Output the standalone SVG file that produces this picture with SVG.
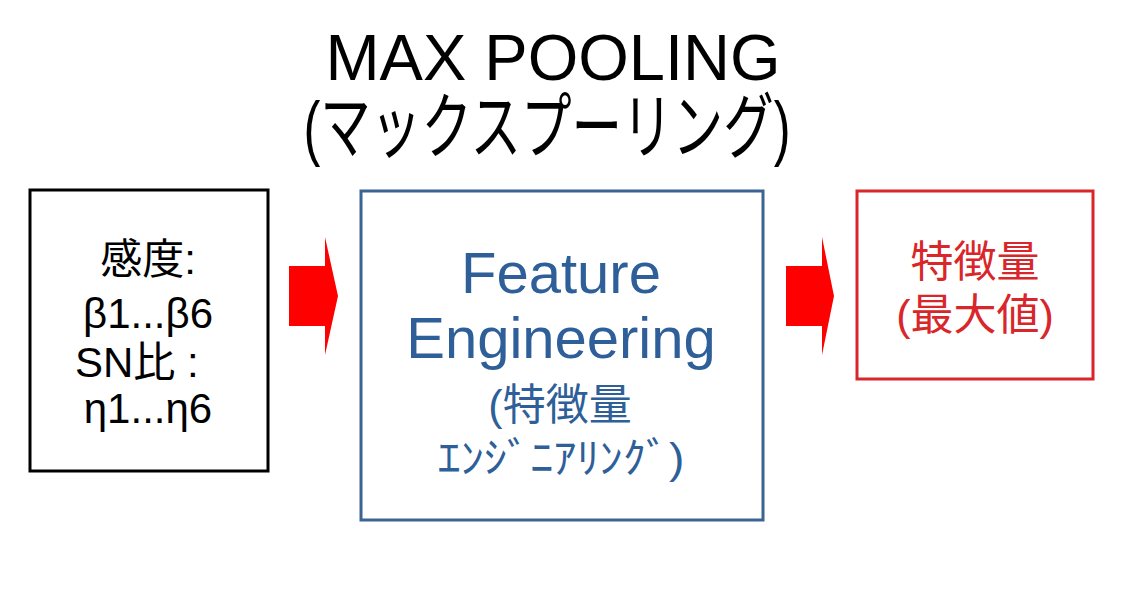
<svg xmlns="http://www.w3.org/2000/svg" width="1121" height="615" viewBox="0 0 1121 615">
<style>
text{font-family:"Liberation Sans","Noto Sans CJK JP",sans-serif;text-anchor:middle}
.title{fill:#000;font-size:65px}
.blk{fill:#000;font-size:42px}
.blu{fill:#2e5f99}
.red{fill:#d8262a;font-size:43px}
.arrow{fill:#ff0000}
</style>
<rect width="1121" height="615" fill="#fff"/>
<g id="title">
<text class="title" x="553" y="80">MAX POOLING</text>
<text class="title" x="547" y="152" style="font-size:72px" textLength="487" lengthAdjust="spacingAndGlyphs">(マックスプーリング)</text>
</g>
<g id="input">
<rect x="30" y="190" width="238" height="281" fill="none" stroke="#000" stroke-width="3"/>
<text class="blk" x="148" y="274">感度:</text>
<text class="blk" x="148" y="328">β1...β6</text>
<text class="blk" x="75" y="377" style="text-anchor:start">SN比 :</text>
<text class="blk" x="148" y="423">η1...η6</text>
</g>
<g id="feature-engineering">
<rect x="361" y="191" width="402" height="329" fill="none" stroke="#3a6593" stroke-width="3"/>
<text class="blu" x="561" y="293" style="font-size:58px">Feature</text>
<text class="blu" x="561" y="358" style="font-size:58px">Engineering</text>
<text class="blu" x="560" y="420" style="font-size:43px">(特徴量</text>
<text class="blu" x="561" y="473" style="font-size:42px" textLength="247" lengthAdjust="spacingAndGlyphs">ｴﾝｼﾞﾆｱﾘﾝｸﾞ)</text>
</g>
<g id="output">
<rect x="857" y="191" width="236" height="188" fill="none" stroke="#d8262a" stroke-width="3"/>
<text class="red" x="975" y="277">特徴量</text>
<text class="red" x="975" y="330">(最大値)</text>
</g>
<g id="connectors">
<polygon class="arrow" points="289,266 325,266 325,237 338,296 325,355 325,326 289,326"/>
<polygon class="arrow" points="786,266 822,266 822,237 834,296 822,355 822,326 786,326"/>
</g>
</svg>
